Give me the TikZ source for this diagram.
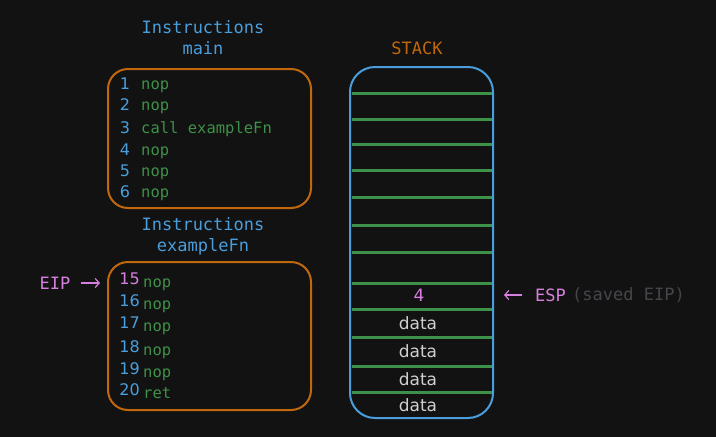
\documentclass[tikz,border=0pt]{standalone}
\usepackage{fontspec}
\setmainfont{DejaVu Sans}
\setmonofont{DejaVu Sans Mono}
\usetikzlibrary{arrows.meta}

\definecolor{bgdark}{HTML}{121212}
\definecolor{instblue}{HTML}{4A9EDB}
\definecolor{boxorange}{HTML}{C2680C}
\definecolor{opgreen}{HTML}{3E9148}
\definecolor{regpink}{HTML}{D77FE0}
\definecolor{dimgrey}{HTML}{44464B}
\definecolor{datagrey}{HTML}{CFCFCF}

\tikzset{
  heading/.style={text=instblue,font=\ttfamily\fontsize{17}{21}\selectfont,align=center,inner sep=0pt},
  codebox/.style={draw=boxorange,line width=2pt,rounded corners=20pt},
  lineno/.style={text=instblue,font=\fontsize{16}{18}\selectfont,inner sep=0pt},
  opcode/.style={text=opgreen,font=\ttfamily\fontsize{15.5}{18}\selectfont,anchor=base west,inner sep=0pt},
  slot/.style={draw=opgreen,line width=3pt},
  reg/.style={text=regpink,font=\ttfamily\fontsize{17}{20}\selectfont,inner sep=0pt},
  ptr/.style={draw=regpink,line width=1.2pt,-{Straight Barb[length=4pt,width=9pt]}},
  cell/.style={text=datagrey,font=\fontsize{17}{20}\selectfont,inner sep=0pt}
}

\begin{document}
\begin{tikzpicture}[x=1pt,y=-1pt]
\fill[bgdark] (0,0) rectangle (716,437);
\useasboundingbox (0,0) rectangle (716,437);

% main routine
\node[heading] (mainhead) at (203,38) {Instructions\\main};
\draw[codebox] (108,69) rectangle (311,208);
\foreach \n/\y/\op in {1/84/nop,2/105/nop,3/128/call exampleFn,4/150/nop,5/171/nop,6/192/nop}{
  \node[lineno] (m\n) at (125,\y) {\n};
  \node[opcode] (mop\n) at (141,\y+5.5) {\op};
}

% called function
\node[heading] (fnhead) at (203,236) {Instructions\\exampleFn};
\draw[codebox] (108,262) rectangle (311,410);
\node[lineno,text=regpink,anchor=mid east] (f15) at (140,282) {15};
\node[opcode] (fop15) at (143,287) {nop};
\foreach \n/\y/\op in {16/304/nop,17/326/nop,18/350/nop,19/372/nop,20/393/ret}{
  \node[lineno,anchor=mid east] (f\n) at (140,\y) {\n};
  \node[opcode] (fop\n) at (143,\y+5) {\op};
}
\node[reg] (eip) at (55,283) {EIP};
\coordinate (eiptip) at (100,283);
\draw[ptr] ([xshift=10pt]eip.east) -- (eiptip);

% stack
\node[text=boxorange,font=\ttfamily\fontsize{17}{20}\selectfont] (stackhead) at (417,48) {STACK};
\draw[draw=instblue,line width=2pt,rounded corners=25pt] (350,67) rectangle (493,418);
\foreach \y in {93,119,144,170,197,225,252,283,309,337,366,392}{
  \draw[slot] (352,\y) -- (492,\y);
}
\node[cell,text=regpink] (ret) at (419,295) {4};
\foreach \y [count=\i] in {323,351,379,405}{
  \node[cell] (d\i) at (418,\y) {data};
}
\node[reg,anchor=west] (esp) at (535,295) {ESP};
\node[text=dimgrey,font=\ttfamily\fontsize{17}{20}\selectfont,inner sep=0pt,anchor=west] (saved) at (572,295) {(saved EIP)};
\coordinate (esptip) at (504,295);
\draw[ptr] ([xshift=-13pt]esp.west) -- (esptip);
\end{tikzpicture}
\end{document}
